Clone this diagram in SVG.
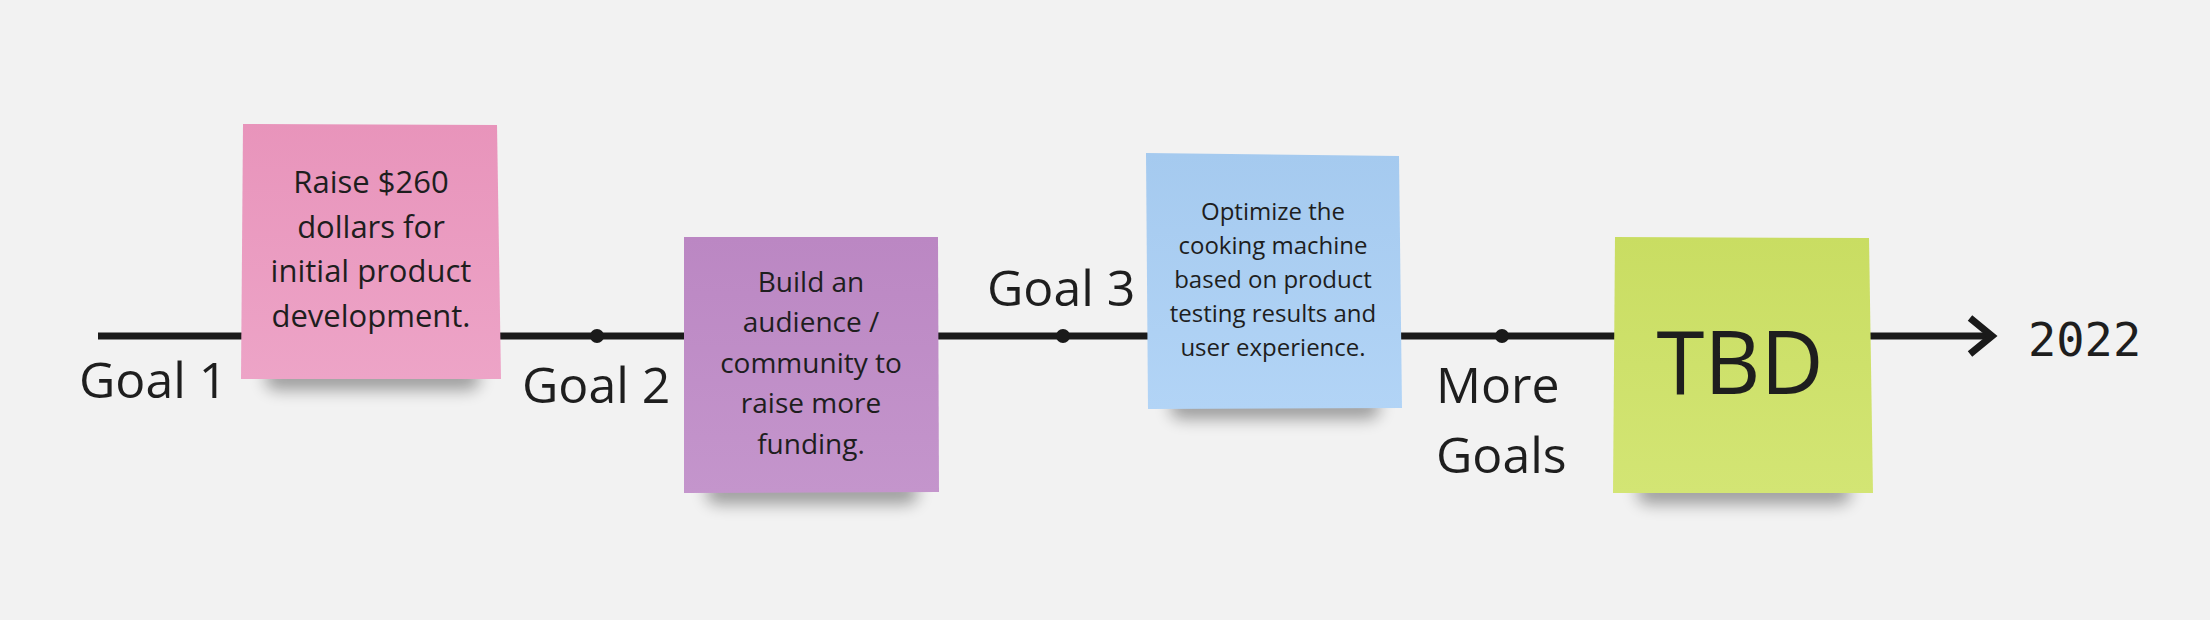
<svg xmlns="http://www.w3.org/2000/svg" width="2210" height="620" viewBox="0 0 2210 620">
<style>
.note-text{font-family:"Open Sans","Liberation Sans",sans-serif;fill:#1e1e1e;text-anchor:middle}
.label{font-family:"Open Sans","Liberation Sans",sans-serif;fill:#1e1e1e;font-size:50px}
.year{font-family:"DejaVu Sans Mono","Liberation Mono",monospace;fill:#1e1e1e;font-size:47px}
.axis{stroke:#1a1a1a;stroke-width:7;fill:none}
.dot{fill:#1a1a1a}
.shadow{fill:#000;opacity:0.35;filter:url(#blur)}
</style>
<defs>
<filter id="blur" x="-20%" y="-100%" width="140%" height="300%"><feGaussianBlur stdDeviation="8"/></filter>
<linearGradient id="gPink" x1="0" y1="0" x2="0" y2="1"><stop offset="0" stop-color="#e894bb"/><stop offset="1" stop-color="#eda4c7"/></linearGradient>
<linearGradient id="gPurple" x1="0" y1="0" x2="0" y2="1"><stop offset="0" stop-color="#bb87c3"/><stop offset="1" stop-color="#c495cc"/></linearGradient>
<linearGradient id="gBlue" x1="0" y1="0" x2="0" y2="1"><stop offset="0" stop-color="#a5caef"/><stop offset="1" stop-color="#b2d4f6"/></linearGradient>
<linearGradient id="gGreen" x1="0" y1="0" x2="0" y2="1"><stop offset="0" stop-color="#c9dd62"/><stop offset="1" stop-color="#d3e574"/></linearGradient>
<marker id="arrow" markerUnits="userSpaceOnUse" markerWidth="40" markerHeight="50" refX="28" refY="25" orient="auto">
<path d="M6,7 L28,25 L6,43" fill="none" stroke="#1a1a1a" stroke-width="7"/>
</marker>
</defs>
<rect width="2210" height="620" fill="#f2f2f2"/>
<g id="connectors">
<line class="axis" x1="98" y1="336" x2="1992" y2="336" marker-end="url(#arrow)"/>
<circle class="dot" cx="597" cy="336" r="7"/>
<circle class="dot" cx="1063" cy="336" r="7"/>
<circle class="dot" cx="1502" cy="336" r="7"/>
</g>
<g id="label-goal1"><text class="label" x="79" y="398">Goal 1</text></g>
<g id="label-goal2"><text class="label" x="522" y="403">Goal 2</text></g>
<g id="label-goal3"><text class="label" x="987" y="306">Goal 3</text></g>
<g id="label-more"><text class="label" x="1436" y="403">More</text><text class="label" x="1436" y="473">Goals</text></g>
<g id="label-year"><text class="year" x="2028" y="356">2022</text></g>
<g id="note-pink">
<rect class="shadow" x="265" y="366" width="215" height="24" rx="12"/>
<polygon points="243,124 497,125 501,379 241,379" fill="url(#gPink)"/>
<text class="note-text" font-size="31"><tspan x="371" y="193">Raise $260</tspan><tspan x="371" y="238">dollars for</tspan><tspan x="371" y="282">initial product</tspan><tspan x="371" y="327">development.</tspan></text>
</g>
<g id="note-purple">
<rect class="shadow" x="706" y="480" width="212" height="24" rx="12"/>
<polygon points="684,237 938,237 939,492 684,493" fill="url(#gPurple)"/>
<text class="note-text" font-size="28"><tspan x="811" y="292">Build an</tspan><tspan x="811" y="332">audience /</tspan><tspan x="811" y="373">community to</tspan><tspan x="811" y="413">raise more</tspan><tspan x="811" y="454">funding.</tspan></text>
</g>
<g id="note-blue">
<rect class="shadow" x="1170" y="395" width="210" height="24" rx="12"/>
<polygon points="1146,153 1399,156 1402,408 1148,409" fill="url(#gBlue)"/>
<text class="note-text" font-size="24"><tspan x="1273" y="220">Optimize the</tspan><tspan x="1273" y="254">cooking machine</tspan><tspan x="1273" y="288">based on product</tspan><tspan x="1273" y="322">testing results and</tspan><tspan x="1273" y="356">user experience.</tspan></text>
</g>
<g id="note-green">
<rect class="shadow" x="1637" y="480" width="214" height="24" rx="12"/>
<polygon points="1615,237 1869,238 1873,493 1613,493" fill="url(#gGreen)"/>
<text class="note-text" font-size="87"><tspan x="1740" y="394">TBD</tspan></text>
</g>
</svg>
